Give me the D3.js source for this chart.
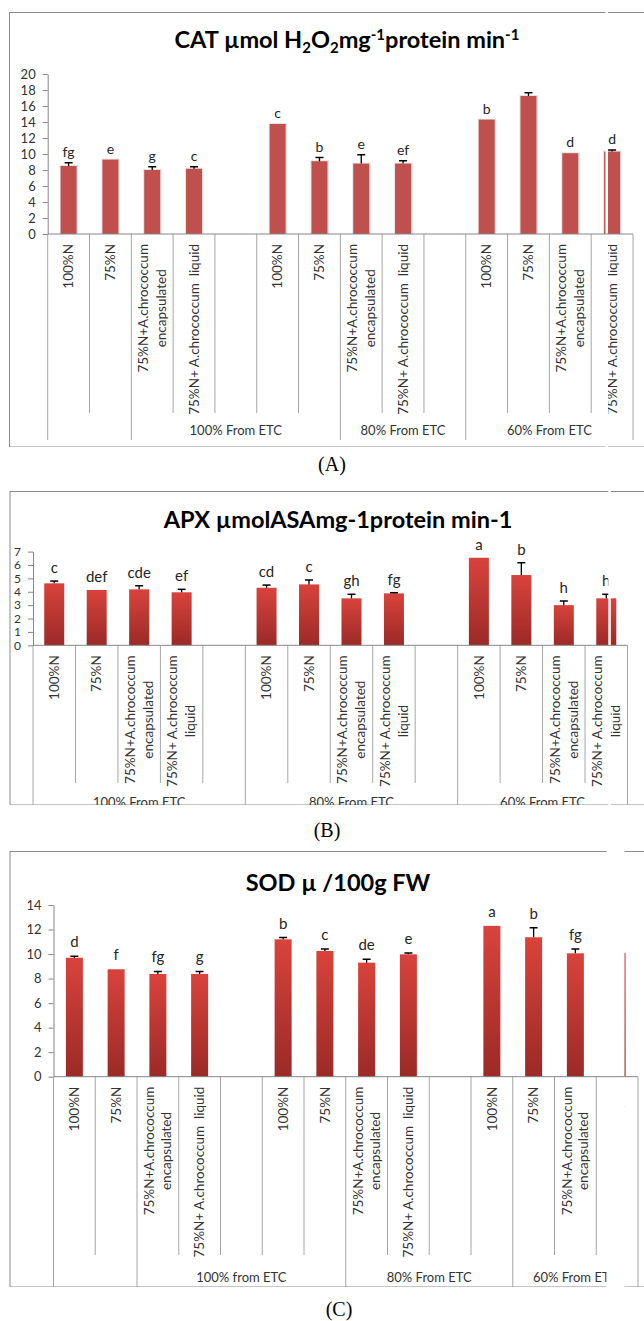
<!DOCTYPE html>
<html>
<head>
<meta charset="utf-8">
<script src="https://cdn.jsdelivr.net/npm/d3@7"></script>
<style>
body { margin: 0; background: #fff; }
svg text { font-family: Lato, "Open Sans", sans-serif; fill: #262626; }
</style>
</head>
<body>
<svg id="main"></svg>
<script>
// category slots, 14 per panel ('' = empty slot between the ETC groups, '|' = line break)
const enc = '75%N+A.chrococcum|encapsulated'
const liq1 = '75%N+ A.chrococcum  liquid'
const liq2 = '75%N+ A.chrococcum|liquid'
const catsA = ['100%N', '75%N', enc, liq1, '', '100%N', '75%N', enc, liq1, '', '100%N', '75%N', enc, liq1]
const catsB = ['100%N', '75%N', enc, liq2, '', '100%N', '75%N', enc, liq2, '', '100%N', '75%N', enc, liq2]
const catsC = catsA

// outer level of the category axis: names and slot edges
const groupsA = ['', '100% From ETC', '80% From ETC', '60% From ETC']
const edgesA = [0, 2, 7, 10, 14]
const groupsB = ['100% From ETC', '80% From ETC', '60% From ETC']
const edgesB = [0, 5, 10, 14]
const groupsC = ['', '100% from ETC', '80% From ETC', '60% From ETC']
const edgesC = [0, 2, 7, 11, 14]

// CAT
const valuesA = [8.5, 9.3, 8.0, 8.15, null, 13.75, 9.1, 8.8, 8.8, null, 14.3, 17.25, 10.1, 10.3]
const errA = [0.4, 0, 0.4, 0.25, null, 0, 0.45, 1.1, 0.35, null, 0, 0.4, 0, 0.2]
const lettersA = ['fg', 'e', 'g', 'c', '', 'c', 'b', 'e', 'ef', '', 'b', '', 'd', 'd']
const ticksA = [0, 2, 4, 6, 8, 10, 12, 14, 16, 18, 20]

// APX
const valuesB = [4.63, 4.13, 4.18, 3.96, null, 4.3, 4.55, 3.51, 3.88, null, 6.54, 5.25, 3.0, 3.51]
const errB = [0.17, 0, 0.27, 0.22, null, 0.2, 0.33, 0.3, 0.05, null, 0, 0.92, 0.31, 0.3]
const lettersB = ['c', 'def', 'cde', 'ef', '', 'cd', 'c', 'gh', 'fg', '', 'a', 'b', 'h', 'h']
const ticksB = [0, 1, 2, 3, 4, 5, 6, 7]

// SOD
const valuesC = [9.7, 8.76, 8.38, 8.38, null, 11.2, 10.25, 9.3, 9.98, null, 12.3, 11.37, 10.06, 10.1]
const errC = [0.12, 0, 0.2, 0.2, null, 0.14, 0.17, 0.27, 0.11, null, 0, 0.78, 0.36, 0]
const lettersC = ['d', 'f', 'fg', 'g', '', 'b', 'c', 'de', 'e', '', 'a', 'b', 'fg', '']
const ticksC = [0, 2, 4, 6, 8, 10, 12, 14]

// titles as [text, 'sub' | 'sup' | '']
const titleA = [['CAT µmol H', ''], ['2', 'sub'], ['O', ''], ['2', 'sub'], ['mg', ''], ['-1', 'sup'], ['protein min', ''], ['-1', 'sup']]
const titleB = [['APX µmolASAmg-1protein min-1', '']]
const titleC = [['SOD µ /100g FW', '']]

let width = 644
let height = 1321
let axisColor = '#868686'
let lineColor = '#a6a6a6'

let svg = d3.select('#main').attr('width', width).attr('height', height)
let defs = svg.append('defs')

let grad = defs.append('linearGradient').attr('id', 'barGrad')
    .attr('x1', 0).attr('y1', 0).attr('x2', 0).attr('y2', 1)
grad.append('stop').attr('offset', '0%').attr('stop-color', '#d9433c')
grad.append('stop').attr('offset', '100%').attr('stop-color', '#9b2a26')

const panels = [
    {id: 'A', cats: catsA, groups: groupsA, edges: edgesA, values: valuesA, err: errA, letters: lettersA, ticks: ticksA, title: titleA,
     box: {x: 9.5, y: 12.5, bottom: 447}, x0: 47.7, x1: 633, y0: 234, yTop: 74, yMax: 20, tickSize: 13,
     catEnd: 413, groupEnd: 440, groupY: 435, titleX: 347, titleY: 48, label: '(A)', labelX: 332, labelY: 471,
     gapX: 605.5, gapW: 2.5, barW: 16, fill: '#c0504d', shadow: true, letterGap: 6, letterSize: 14, lineH: 18},
    {id: 'B', cats: catsB, groups: groupsB, edges: edgesB, values: valuesB, err: errB, letters: lettersB, ticks: ticksB, title: titleB,
     box: {x: 10, y: 491.5, bottom: 805}, x0: 33, x1: 627.5, y0: 645.3, yTop: 551.6, yMax: 7, tickSize: 12,
     catEnd: 783, groupEnd: 805, groupY: 807, titleX: 338, titleY: 528, label: '(B)', labelX: 327, labelY: 837,
     gapX: 608.3, gapW: 2.5, barW: 20, fill: 'url(#barGrad)', shadow: false, letterGap: 8, letterSize: 15, lineH: 18},
    {id: 'C', cats: catsC, groups: groupsC, edges: edgesC, values: valuesC, err: errC, letters: lettersC, ticks: ticksC, title: titleC,
     box: {x: 10, y: 851.5, bottom: 1287}, x0: 53.5, x1: 638, y0: 1076.7, yTop: 905, yMax: 14, tickSize: 13,
     catEnd: 1255, groupEnd: 1287, groupY: 1282, titleX: 338, titleY: 891, label: '(C)', labelX: 339, labelY: 1316,
     gapX: 606.5, gapW: 18, barW: 17, fill: 'url(#barGrad)', shadow: false, letterGap: 9, letterSize: 15, lineH: 16.5}
]

const drawTitle = (g, p) => {
    let t = g.append('text')
        .attr('x', p.titleX).attr('y', p.titleY)
        .attr('text-anchor', 'middle')
        .attr('font-size', 23.5).attr('font-weight', 'bold')
        .style('fill', '#000')
    let shift = 0
    p.title.forEach(([txt, kind]) => {
        let target = kind == 'sub' ? 5 : kind == 'sup' ? -8 : 0
        t.append('tspan')
            .attr('dy', target - shift)
            .attr('font-size', kind ? 15 : 23.5)
            .text(txt)
        shift = target
    })
}

const drawPanel = p => {
    let clipId = 'clip' + p.id
    defs.append('clipPath').attr('id', clipId).append('rect')
        .attr('x', 0).attr('y', p.box.y - 1)
        .attr('width', width).attr('height', p.box.bottom - p.box.y + 1)

    let g = svg.append('g').attr('clip-path', `url(#${clipId})`)

    // chart area border (runs off the right edge)
    g.append('rect')
        .attr('x', p.box.x).attr('y', p.box.y)
        .attr('width', width + 20).attr('height', p.box.bottom - p.box.y)
        .attr('fill', 'none').attr('stroke', '#8c8c8c')

    drawTitle(g, p)

    let xScale = d3.scaleBand().domain(d3.range(p.cats.length)).range([p.x0, p.x1])
    let yScale = d3.scaleLinear().domain([0, p.yMax]).range([p.y0, p.yTop])
    let edge = k => p.x0 + k * xScale.step()
    let mid = i => xScale(i) + xScale.bandwidth() / 2

    let yAxis = d3.axisLeft(yScale)
        .tickValues(p.ticks)
        .tickFormat(d3.format('d'))
        .tickSize(5).tickSizeOuter(0).tickPadding(7)
    let ya = g.append('g')
        .attr('transform', `translate(${p.x0}, 0)`)
        .call(yAxis)
        .attr('font-family', null).attr('font-size', p.tickSize)
    ya.select('.domain').attr('stroke', axisColor)
    ya.selectAll('.tick line').attr('stroke', axisColor)
    ya.selectAll('.tick text').style('fill', '#333')

    let items = p.values
        .map((v, i) => ({i: i, v: v, e: p.err[i], t: p.letters[i]}))
        .filter(d => d.v != null)

    if (p.shadow) {
        g.selectAll('rect.shadow')
            .data(items)
            .enter()
            .append('rect')
            .attr('class', 'shadow')
            .attr('x', d => mid(d.i) - p.barW / 2 - 1)
            .attr('y', d => yScale(d.v) - 1)
            .attr('width', p.barW + 2.5)
            .attr('height', d => yScale(0) - yScale(d.v) + 1)
            .attr('fill', '#e3e3e3')
    }

    g.selectAll('rect.bar')
        .data(items)
        .enter()
        .append('rect')
        .attr('class', 'bar')
        .attr('x', d => mid(d.i) - p.barW / 2)
        .attr('y', d => yScale(d.v))
        .attr('width', p.barW)
        .attr('height', d => yScale(0) - yScale(d.v))
        .attr('fill', p.fill)

    let withErr = items.filter(d => d.e > 0)
    g.selectAll('line.err')
        .data(withErr)
        .enter()
        .append('line')
        .attr('x1', d => mid(d.i)).attr('x2', d => mid(d.i))
        .attr('y1', d => yScale(d.v)).attr('y2', d => yScale(d.v + d.e))
        .attr('stroke', '#000').attr('stroke-width', 1.3)
    g.selectAll('line.cap')
        .data(withErr)
        .enter()
        .append('line')
        .attr('x1', d => mid(d.i) - 4).attr('x2', d => mid(d.i) + 4)
        .attr('y1', d => yScale(d.v + d.e)).attr('y2', d => yScale(d.v + d.e))
        .attr('stroke', '#000').attr('stroke-width', 1.5)

    g.selectAll('text.letter')
        .data(items.filter(d => d.t))
        .enter()
        .append('text')
        .attr('x', d => mid(d.i))
        .attr('y', d => yScale(d.v + d.e) - p.letterGap)
        .attr('text-anchor', 'middle')
        .attr('font-size', p.letterSize)
        .text(d => d.t)

    // inner level labels, read bottom to top, block ends 10px under the axis
    p.cats.forEach((c, i) => {
        if (!c) return
        let lines = c.split('|')
        let t = g.append('text')
            .attr('font-size', 13.5)
            .style('white-space', 'pre')
            .style('fill', '#333')
        let spans = lines.map((ln, k) => t.append('tspan')
            .attr('x', 0)
            .attr('y', (k - (lines.length - 1) / 2) * p.lineH)
            .attr('dy', '0.35em')
            .text(ln))
        let longest = d3.max(spans, s => s.node().getComputedTextLength())
        t.attr('text-anchor', 'middle')
            .attr('transform', `translate(${mid(i)}, ${p.y0 + 10 + longest / 2}) rotate(-90)`)
    })

    // separators of the two axis levels
    let bounds = d3.range(p.cats.length + 1)
    g.selectAll('line.sep')
        .data(bounds)
        .enter()
        .append('line')
        .attr('x1', k => edge(k)).attr('x2', k => edge(k))
        .attr('y1', p.y0)
        .attr('y2', k => p.edges.includes(k) ? p.groupEnd : p.catEnd)
        .attr('stroke', lineColor)

    p.groups.forEach((name, j) => {
        g.append('text')
            .attr('x', (edge(p.edges[j]) + edge(p.edges[j + 1])) / 2)
            .attr('y', p.groupY)
            .attr('text-anchor', 'middle')
            .attr('font-size', 13)
            .style('fill', '#333')
            .text(name)
    })

    // white seam in the source picture
    g.append('rect')
        .attr('x', p.gapX).attr('y', p.box.y - 2)
        .attr('width', p.gapW).attr('height', p.box.bottom - p.box.y + 4)
        .attr('fill', '#fff')

    g.append('line')
        .attr('x1', p.x0).attr('x2', p.x1)
        .attr('y1', p.y0).attr('y2', p.y0)
        .attr('stroke', axisColor)

    svg.append('text')
        .attr('x', p.labelX).attr('y', p.labelY)
        .attr('text-anchor', 'middle')
        .attr('font-size', 20)
        .style('font-family', '"Liberation Serif", "DejaVu Serif", serif')
        .style('fill', '#000')
        .text(p.label)
}

panels.forEach(drawPanel)
</script>
</body>
</html>
